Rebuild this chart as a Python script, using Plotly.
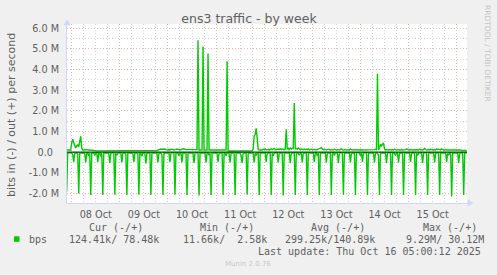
import plotly.graph_objects as go
import pandas as pd

# ---------------- data ----------------
start_time = "2025-10-07 21:30"      # first 30-minute sample
sample_freq = "30min"

# bits in per second (Mbit/s), drawn negative; one row = 6 hours (12 samples)
in_mbps = [
    1.92, 0.05, 0.04, 0.03, 0.05, 0.04, 0.12, 0.48, 0.05, 0.04, 0.04, 0.06,
    2.00, 0.06, 0.04, 0.04, 0.05, 0.04, 0.05, 0.50, 0.06, 0.04, 0.18, 0.05,
    2.08, 0.05, 0.04, 0.04, 0.16, 0.05, 0.04, 0.47, 0.05, 0.04, 0.22, 0.05,
    2.08, 0.05, 0.04, 0.05, 0.04, 0.04, 0.05, 0.52, 0.06, 0.04, 0.05, 0.04,
    2.06, 0.04, 0.15, 0.05, 0.04, 0.05, 0.04, 0.50, 0.05, 0.04, 0.05, 0.05,
    2.08, 0.06, 0.04, 0.04, 0.05, 0.04, 0.05, 0.48, 0.04, 0.05, 0.04, 0.05,
    2.07, 0.05, 0.04, 0.20, 0.05, 0.04, 0.05, 0.55, 0.05, 0.04, 0.04, 0.05,
    2.08, 0.05, 0.04, 0.05, 0.04, 0.05, 0.04, 0.50, 0.05, 0.05, 0.04, 0.12,
    2.08, 0.04, 0.05, 0.04, 0.05, 0.04, 0.05, 0.48, 0.05, 0.04, 0.05, 0.04,
    2.07, 0.05, 0.04, 0.05, 0.18, 0.05, 0.04, 0.50, 0.04, 0.05, 0.04, 0.05,
    2.08, 0.06, 0.04, 0.04, 0.05, 0.04, 0.05, 0.52, 0.05, 0.04, 0.05, 0.04,
    2.10, 0.05, 0.04, 0.05, 0.04, 0.05, 0.04, 0.50, 0.05, 0.04, 0.15, 0.05,
    2.08, 0.05, 0.05, 0.04, 0.05, 0.04, 0.05, 0.48, 0.05, 0.04, 0.05, 0.04,
    2.08, 0.04, 0.05, 0.18, 0.05, 0.04, 0.05, 0.50, 0.04, 0.05, 0.04, 0.05,
    2.08, 0.05, 0.04, 0.05, 0.04, 0.05, 0.20, 0.52, 0.05, 0.04, 0.05, 0.04,
    2.07, 0.05, 0.04, 0.05, 0.04, 0.05, 0.04, 0.50, 0.05, 0.16, 0.05, 0.04,
    2.08, 0.05, 0.04, 0.05, 0.04, 0.05, 0.04, 0.48, 0.05, 0.04, 0.05, 0.04,
    2.08, 0.04, 0.18, 0.05, 0.04, 0.05, 0.04, 0.50, 0.05, 0.04, 0.05, 0.05,
    2.10, 0.05, 0.04, 0.05, 0.04, 0.05, 0.04, 0.52, 0.05, 0.04, 0.05, 0.04,
    2.08, 0.05, 0.04, 0.05, 0.15, 0.05, 0.04, 0.50, 0.05, 0.04, 0.05, 0.04,
    2.08, 0.05, 0.04, 0.05, 0.04, 0.05, 0.04, 0.48, 0.05, 0.04, 0.18, 0.04,
    2.08, 0.05, 0.04, 0.05, 0.04, 0.05, 0.04, 0.50, 0.05, 0.04, 0.05, 0.04,
    2.08, 0.05, 0.04, 0.16, 0.04, 0.05, 0.04, 0.52, 0.05, 0.04, 0.05, 0.04,
    2.07, 0.05, 0.04, 0.05, 0.04, 0.05, 0.04, 0.50, 0.05, 0.04, 0.05, 0.04,
    2.08, 0.05, 0.04, 0.05, 0.04, 0.18, 0.04, 0.48, 0.05, 0.04, 0.05, 0.04,
    2.08, 0.05, 0.04, 0.05, 0.04, 0.05, 0.04, 0.50, 0.05, 0.04, 0.05, 0.15,
    2.08, 0.05, 0.04, 0.05, 0.04, 0.05, 0.04, 0.52, 0.05, 0.04, 0.05, 0.04,
    2.08, 0.05, 0.04, 0.05, 0.18, 0.05, 0.04, 0.50, 0.05, 0.04, 0.05, 0.04,
    2.08, 0.05, 0.04, 0.05, 0.04, 0.05, 0.04, 0.48, 0.05, 0.04, 0.05, 0.04,
    2.08, 0.05, 0.16, 0.05, 0.04, 0.05, 0.04, 0.52, 0.05, 0.04, 0.05, 0.04,
    2.08, 0.05, 0.04, 0.05, 0.04, 0.05, 0.04, 0.50, 0.05, 0.04, 0.05, 0.04,
    2.08, 0.05, 0.04, 0.05, 0.04, 0.05, 0.04, 0.48, 0.05, 0.15, 0.05, 0.04,
    2.15, 0.05, 0.04, 0.05, 0.04, 0.05, 0.04, 0.52, 0.05, 0.04, 0.05, 0.04,
    2.08, 0.05, 0.04, 0.05,
]

# bits out per second (Mbit/s), drawn positive
out_mbps = [
    0.10, 0.10, 0.11, 0.10, 0.10, 0.45, 0.63, 0.45, 0.25, 0.20, 0.30, 0.35,
    0.25, 0.60, 0.77, 0.20, 0.10, 0.10, 0.11, 0.10, 0.10, 0.12, 0.10, 0.10,
    0.10, 0.09, 0.10, 0.10, 0.08, 0.07, 0.06, 0.06, 0.07, 0.06, 0.06, 0.07,
    0.06, 0.06, 0.07, 0.06, 0.06, 0.06, 0.07, 0.06, 0.06, 0.06, 0.06, 0.07,
    0.06, 0.07, 0.06, 0.06, 0.06, 0.07, 0.06, 0.06, 0.06, 0.06, 0.07, 0.06,
    0.06, 0.06, 0.07, 0.06, 0.06, 0.06, 0.07, 0.06, 0.06, 0.06, 0.06, 0.07,
    0.06, 0.06, 0.06, 0.07, 0.06, 0.06, 0.06, 0.06, 0.07, 0.06, 0.06, 0.06,
    0.07, 0.06, 0.06, 0.06, 0.07, 0.06, 0.08, 0.10, 0.12, 0.15, 0.15, 0.14,
    0.15, 0.16, 0.15, 0.12, 0.10, 0.10, 0.11, 0.10, 0.14, 0.15, 0.13, 0.10,
    0.10, 0.12, 0.15, 0.14, 0.10, 0.10, 0.12, 0.15, 0.16, 0.15, 0.12, 0.12,
    0.12, 0.13, 0.12, 0.12, 0.12, 0.13, 0.12, 0.12, 0.12, 0.12, 0.11, 5.42,
    0.10, 0.10, 0.10, 0.10, 5.12, 0.10, 0.10, 0.10, 0.10, 4.78, 0.10, 0.10,
    0.10, 0.10, 0.10, 0.10, 0.10, 0.10, 0.10, 0.10, 0.10, 0.10, 0.10, 0.10,
    0.10, 0.10, 0.10, 0.10, 4.40, 0.06, 0.05, 0.05, 0.05, 0.05, 0.04, 0.05,
    0.05, 0.05, 0.05, 0.04, 0.05, 0.05, 0.05, 0.05, 0.04, 0.05, 0.05, 0.05,
    0.05, 0.05, 0.06, 0.05, 0.05, 0.06, 0.15, 0.78, 0.85, 1.15, 0.70, 0.12,
    0.10, 0.10, 0.12, 0.10, 0.14, 0.12, 0.15, 0.10, 0.12, 0.14, 0.10, 0.15,
    0.16, 0.12, 0.15, 0.18, 0.12, 0.15, 0.14, 0.15, 0.12, 0.16, 0.12, 0.15,
    0.14, 0.12, 0.15, 1.10, 0.15, 0.18, 0.12, 0.20, 0.15, 0.18, 0.15, 2.38,
    0.15, 0.18, 0.15, 0.20, 0.16, 0.12, 0.15, 0.14, 0.12, 0.15, 0.12, 0.14,
    0.12, 0.15, 0.10, 0.12, 0.14, 0.12, 0.12, 0.15, 0.12, 0.10, 0.12, 0.14,
    0.15, 0.18, 0.22, 0.15, 0.12, 0.14, 0.12, 0.10, 0.12, 0.14, 0.12, 0.10,
    0.12, 0.10, 0.10, 0.14, 0.10, 0.10, 0.12, 0.10, 0.10, 0.12, 0.16, 0.12,
    0.10, 0.12, 0.10, 0.10, 0.12, 0.10, 0.10, 0.15, 0.10, 0.10, 0.12, 0.10,
    0.10, 0.12, 0.10, 0.10, 0.10, 0.12, 0.10, 0.10, 0.10, 0.10, 0.12, 0.10,
    0.10, 0.10, 0.12, 0.10, 0.10, 0.10, 0.10, 0.12, 0.14, 0.12, 3.80, 0.10,
    0.20, 0.38, 0.30, 0.35, 0.45, 0.15, 0.10, 0.12, 0.10, 0.10, 0.12, 0.10,
    0.10, 0.12, 0.10, 0.14, 0.10, 0.10, 0.12, 0.10, 0.10, 0.10, 0.12, 0.10,
    0.10, 0.10, 0.12, 0.15, 0.12, 0.10, 0.10, 0.12, 0.10, 0.10, 0.10, 0.12,
    0.10, 0.12, 0.10, 0.10, 0.14, 0.12, 0.10, 0.10, 0.12, 0.18, 0.12, 0.10,
    0.10, 0.12, 0.10, 0.14, 0.12, 0.10, 0.10, 0.12, 0.10, 0.15, 0.12, 0.14,
    0.12, 0.10, 0.16, 0.12, 0.10, 0.10, 0.12, 0.10, 0.10, 0.10, 0.12, 0.10,
    0.10, 0.12, 0.10, 0.10, 0.12, 0.10, 0.10, 0.10, 0.12, 0.10, 0.08, 0.08,
    0.08, 0.08, 0.07, 0.08,
]

day_label_times = ["2025-10-08 12:00", "2025-10-09 12:00", "2025-10-10 12:00",
                   "2025-10-11 12:00", "2025-10-12 12:00", "2025-10-13 12:00",
                   "2025-10-14 12:00", "2025-10-15 12:00"]
day_labels = ["08 Oct", "09 Oct", "10 Oct", "11 Oct", "12 Oct", "13 Oct",
              "14 Oct", "15 Oct"]
y_tickvals = [-2, -1, 0, 1, 2, 3, 4, 5, 6]
y_ticktext = ["-2.0 M", "-1.0 M", "0.0\u00a0\u00a0", "1.0 M", "2.0 M", "3.0 M",
              "4.0 M", "5.0 M", "6.0 M"]
x_range = ["2025-10-07 21:39:20", "2025-10-16 05:09:20"]
y_range = [-2.466, 6.206]

title_text = "ens3 traffic - by week"
y_title = "bits in (-) / out (+) per second"
series_name = "bps"
legend_headers = ["Cur (-/+)", "Min (-/+)", "Avg (-/+)", "Max (-/+)"]
legend_values = ["124.41k/ 78.48k", " 11.66k/  2.58k", "299.25k/140.89k", "  9.29M/ 30.12M"]
last_update = "Last update: Thu Oct 16 05:00:12 2025"
munin_version = "Munin 2.0.76"
side_credit = "RRDTOOL / TOBI OETIKER"

# ---------------- layout constants ----------------
W, H = 497, 275
L, R, T, B = 67, 30, 24, 72
PW, PH = W - L - R, H - T - B
GREEN = "#00CC00"
FONT_C = "#606060"
AXIS_C = "#CFD6F8"
MGRID = "#EEB4B4"
GRID = "#D4D4D4"
GRID_DASH = "1px,2px"
SANS = "DejaVu Sans"
MONO = "DejaVu Sans Mono"


def px(xp):
    return (xp - L) / PW


def py(yp):
    return (H - B - yp) / PH


def nb(s):
    return s.replace(" ", "\u00a0")


times = pd.date_range(start_time, periods=len(out_mbps), freq=sample_freq)

fig = go.Figure()
fig.add_trace(go.Scatter(x=times, y=[-v for v in in_mbps], mode="lines",
                         line=dict(color=GREEN, width=1.4), xaxis="x", yaxis="y",
                         hoverinfo="skip", showlegend=False))
fig.add_trace(go.Scatter(x=times, y=out_mbps, mode="lines",
                         line=dict(color=GREEN, width=1.4), xaxis="x2", yaxis="y",
                         hoverinfo="skip", showlegend=False))

fig.update_layout(
    width=W, height=H, autosize=False,
    margin=dict(l=L, r=R, t=T, b=B, pad=0),
    paper_bgcolor="#F0F0F0", plot_bgcolor="#FFFFFF",
    showlegend=False,
    font=dict(family=SANS, color=FONT_C, size=10),
    title=dict(text=title_text, x=249 / W, xanchor="center", xref="container",
               y=1 - 19 / H, yanchor="middle", yref="container",
               font=dict(family=SANS, size=12.5, color=FONT_C)),
    xaxis=dict(type="date", range=x_range, showline=True, linecolor=AXIS_C, linewidth=1,
               tickmode="linear", tick0="2025-10-08", dtick=86400000,
               showticklabels=False, ticks="",
               showgrid=True, gridcolor=MGRID, griddash=GRID_DASH, gridwidth=1,
               minor=dict(dtick=21600000, tick0="2025-10-08", showgrid=True,
                          gridcolor=GRID, griddash=GRID_DASH, gridwidth=1, ticks=""),
               zeroline=False),
    xaxis2=dict(type="date", range=x_range, overlaying="x", side="bottom", anchor="y",
                tickmode="array", tickvals=day_label_times, ticktext=day_labels,
                showgrid=False, showline=False, ticks="outside", ticklen=2,
                tickcolor="rgba(0,0,0,0)",
                tickfont=dict(family=SANS, size=9.7, color=FONT_C), zeroline=False),
    yaxis=dict(range=y_range, showline=True, linecolor=AXIS_C, linewidth=1,
               tickmode="array", tickvals=y_tickvals, ticktext=y_ticktext,
               ticks="outside", ticklen=5, tickcolor="rgba(0,0,0,0)",
               tickfont=dict(family=SANS, size=9.7, color=FONT_C),
               showgrid=True, gridcolor=MGRID, griddash=GRID_DASH, gridwidth=1,
               minor=dict(dtick=0.5, tick0=0, showgrid=True, gridcolor=GRID,
                          griddash=GRID_DASH, gridwidth=1, ticks=""),
               zeroline=False),
)

shapes = [
    # zero line on top of the data
    dict(type="line", xref="paper", yref="y", x0=0, x1=1, y0=0, y1=0,
         line=dict(color="#000000", width=1), layer="above"),
    # axis extensions and arrows
    dict(type="line", xref="paper", yref="paper", xsizemode="pixel", xanchor=1,
         x0=0, x1=5, y0=0, y1=0, line=dict(color=AXIS_C, width=1)),
    dict(type="path", xref="paper", yref="paper", xsizemode="pixel", ysizemode="pixel",
         xanchor=1, yanchor=0, path="M 1,-3 L 6,0 L 1,3 Z",
         fillcolor=AXIS_C, line=dict(color=AXIS_C, width=0.5)),
    dict(type="line", xref="paper", yref="paper", ysizemode="pixel", yanchor=1,
         x0=0, x1=0, y0=0, y1=3, line=dict(color=AXIS_C, width=1)),
    dict(type="path", xref="paper", yref="paper", xsizemode="pixel", ysizemode="pixel",
         xanchor=0, yanchor=1, path="M -3,-1 L 3,-1 L 0,4 Z",
         fillcolor=AXIS_C, line=dict(color=AXIS_C, width=0.5)),
    # legend colour box
    dict(type="rect", xref="paper", yref="paper", x0=px(14), x1=px(19.5),
         y0=py(241.8), y1=py(236.3), fillcolor=GREEN, line=dict(width=0)),
]
fig.update_layout(shapes=shapes)

ann = []
ann.append(dict(text=y_title, xref="paper", yref="paper", x=px(11), y=py(115),
                xanchor="center", yanchor="middle", textangle=-90, showarrow=False,
                font=dict(family=SANS, size=11, color=FONT_C)))
ann.append(dict(text=side_credit, xref="paper", yref="paper", x=px(488), y=py(53),
                xanchor="center", yanchor="middle", textangle=90, showarrow=False,
                font=dict(family=SANS, size=7.5, color="#C4C4C4")))
header_centers = [116, 226.5, 338.3, 449.7]
for hc, htxt in zip(header_centers, legend_headers):
    ann.append(dict(text=nb(htxt), xref="paper", yref="paper", x=px(hc), y=py(227.7),
                    xanchor="center", yanchor="middle", showarrow=False,
                    font=dict(family=MONO, size=10, color=FONT_C)))
ann.append(dict(text=series_name, xref="paper", yref="paper", x=px(26.7), y=py(239.3),
                xanchor="left", yanchor="middle", showarrow=False,
                font=dict(family=MONO, size=10, color=FONT_C)))
for k, vtxt in enumerate(legend_values):
    ann.append(dict(text=nb(vtxt), xref="paper", yref="paper", x=px(66.7 + 108.3 * k),
                    y=py(239.3), xanchor="left", yanchor="middle", showarrow=False,
                    font=dict(family=MONO, size=10, color=FONT_C)))
ann.append(dict(text=nb(last_update), xref="paper", yref="paper", x=px(482.5), y=py(251),
                xanchor="right", yanchor="middle", showarrow=False,
                font=dict(family=MONO, size=10, color=FONT_C)))
ann.append(dict(text=munin_version, xref="paper", yref="paper", x=px(248), y=py(264),
                xanchor="center", yanchor="middle", showarrow=False,
                font=dict(family=SANS, size=7, color="#C8C8C8")))
fig.update_layout(annotations=ann)

fig.write_html("out.html")
